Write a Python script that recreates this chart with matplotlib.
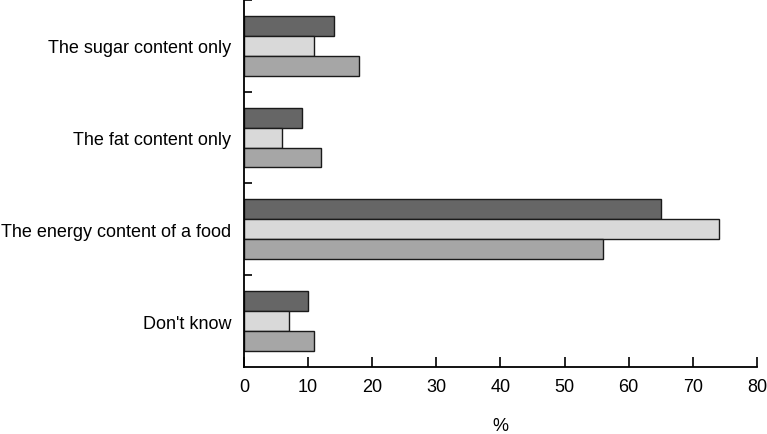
import matplotlib.pyplot as plt
import numpy as np
from matplotlib.ticker import FixedLocator, NullFormatter

plt.rcParams['font.family'] = ['Liberation Sans', 'DejaVu Sans']

categories = ["The sugar content only", "The fat content only",
              "The energy content of a food", "Don't know"]
series_dark = [14, 9, 65, 10]
series_light = [11, 6, 74, 7]
series_mid = [18, 12, 56, 11]
colors = ['#666666', '#d9d9d9', '#a6a6a6']


def main():
    fig = plt.figure(figsize=(7.67, 4.35), dpi=100)
    ax = fig.add_axes([0.318, 0.154, 0.669, 0.844])

    n = len(categories)
    pos = np.arange(n)[::-1]  # top to bottom
    h = 0.217
    for k, (vals, col) in enumerate(zip([series_dark, series_light, series_mid], colors)):
        ax.barh(pos + (1 - k) * h, vals, height=h, color=col,
                edgecolor='#1a1a1a', linewidth=1.0)

    ax.set_xlim(0, 80)
    ax.set_ylim(-0.5, n - 0.5)
    ax.set_xticks(range(0, 81, 10))
    ax.set_yticks(pos)
    ax.set_yticklabels(categories)
    ax.yaxis.set_minor_locator(FixedLocator(np.arange(0.5, n, 1.0)))
    ax.yaxis.set_minor_formatter(NullFormatter())

    ax.tick_params(axis='y', which='major', length=0, pad=9, labelsize=13)
    ax.tick_params(axis='y', which='minor', direction='in', length=6, width=1.2)
    ax.tick_params(axis='x', direction='in', length=7, width=1.2, pad=8, labelsize=13)

    for s in ['top', 'right']:
        ax.spines[s].set_visible(False)
    for s in ['left', 'bottom']:
        ax.spines[s].set_linewidth(1.3)

    ax.set_xlabel('%', fontsize=13, labelpad=16)

    fig.savefig('out.png', dpi=100)


if __name__ == "__main__":
    main()
